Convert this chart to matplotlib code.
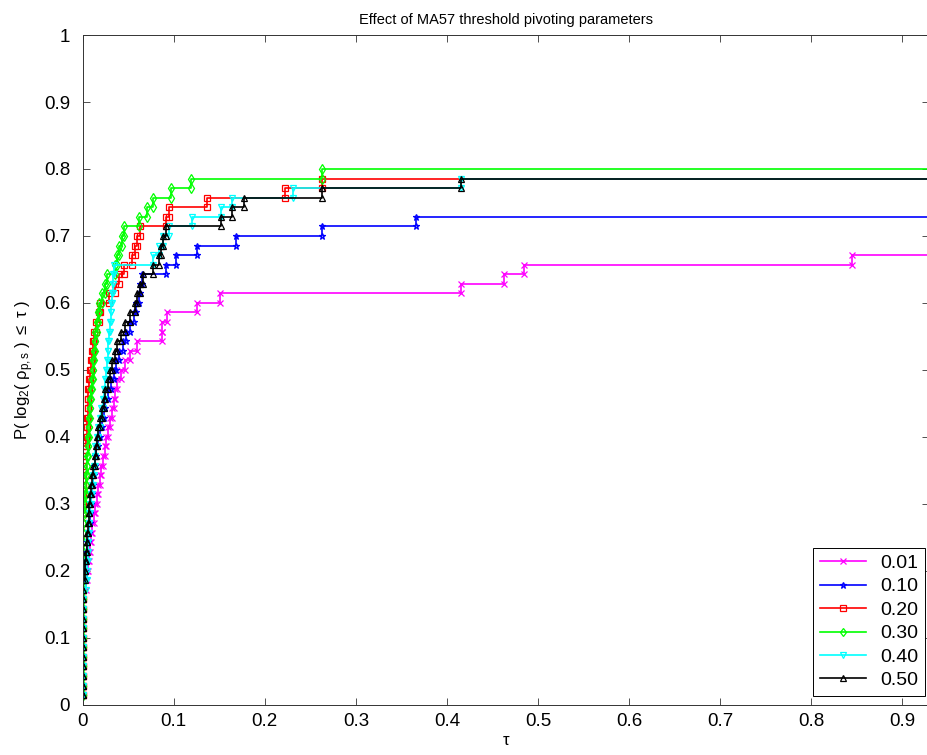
import matplotlib
matplotlib.use("Agg")
import matplotlib.pyplot as plt
import numpy as np

plt.rcParams['font.family'] = ['Liberation Sans', 'DejaVu Sans']
plt.rcParams['mathtext.fontset'] = 'custom'
plt.rcParams['mathtext.rm'] = 'Liberation Sans'
plt.rcParams['mathtext.it'] = 'Liberation Sans'

# ---------------- data (log2 performance ratios, sorted, finite only) ----------
n_problems = 70
labels = ['0.01', '0.10', '0.20', '0.30', '0.40', '0.50']

tau_001 = [0, 0, 0, 0, 0, 0, 0, 0, 0, 0, 0, 0,
           0.004, 0.005, 0.006, 0.007, 0.008, 0.009, 0.010, 0.012, 0.014, 0.016, 0.017, 0.019,
           0.020, 0.022, 0.024, 0.026, 0.028, 0.030, 0.032, 0.034, 0.036, 0.038, 0.042, 0.046,
           0.052, 0.0597, 0.0872, 0.0872, 0.0927, 0.1257, 0.151, 0.415, 0.4628, 0.4848, 0.845]

tau_010 = [0, 0, 0, 0, 0, 0, 0, 0, 0, 0, 0, 0, 0, 0,
           0.003, 0.004, 0.005, 0.006, 0.007, 0.0075, 0.008, 0.009, 0.010, 0.011, 0.012, 0.0135,
           0.015, 0.017, 0.019, 0.021, 0.023, 0.025, 0.028, 0.031, 0.034, 0.037, 0.040, 0.044,
           0.048, 0.052, 0.056, 0.059,
           0.0615, 0.063, 0.065, 0.091, 0.102, 0.1257, 0.168, 0.263, 0.366]

tau_020 = [0, 0, 0, 0, 0, 0, 0, 0, 0, 0, 0, 0, 0, 0, 0, 0, 0, 0, 0, 0, 0, 0, 0, 0, 0, 0, 0,
           0.004, 0.0045, 0.005, 0.0055, 0.006, 0.0062, 0.0065,
           0.008, 0.009, 0.010, 0.011, 0.012, 0.015, 0.0174, 0.0193, 0.0284, 0.036, 0.040, 0.045,
           0.054, 0.0578, 0.0597, 0.063, 0.092, 0.0945, 0.136, 0.2227, 0.263]

tau_030 = [0, 0, 0, 0, 0, 0, 0, 0, 0, 0, 0, 0, 0, 0, 0, 0, 0, 0, 0, 0,
           0.002, 0.003, 0.0035, 0.004, 0.0045, 0.005, 0.0055, 0.006, 0.0065, 0.007, 0.0075,
           0.008, 0.009, 0.010, 0.011, 0.0115, 0.0125,
           0.013, 0.0138, 0.0155, 0.017, 0.018, 0.021, 0.024, 0.0265, 0.035, 0.0376, 0.0404,
           0.0431, 0.0457, 0.0615, 0.0707, 0.0777, 0.097, 0.1195, 0.263]

tau_040 = [0, 0, 0, 0, 0, 0, 0, 0, 0, 0, 0, 0,
           0.004, 0.0045, 0.005, 0.0055, 0.006, 0.006, 0.0064, 0.007, 0.008, 0.009, 0.010, 0.011,
           0.012, 0.013, 0.014, 0.0156, 0.017, 0.019, 0.020, 0.022, 0.023, 0.025,
           0.026, 0.027, 0.0275, 0.028, 0.029, 0.030, 0.031, 0.0315, 0.032, 0.033, 0.0335,
           0.034, 0.077, 0.084, 0.088, 0.095, 0.12, 0.152, 0.164, 0.2315, 0.415]

tau_050 = [0, 0, 0, 0, 0, 0, 0, 0, 0, 0, 0, 0, 0,
           0.002, 0.003, 0.004, 0.0045, 0.005, 0.006, 0.0065, 0.007, 0.008, 0.009, 0.010, 0.0115,
           0.013, 0.0145, 0.0156, 0.017, 0.019, 0.021, 0.023, 0.025, 0.028, 0.030, 0.032, 0.035,
           0.0376, 0.042, 0.047, 0.052,
           0.058, 0.060, 0.063, 0.066, 0.077, 0.084, 0.086, 0.088, 0.0917, 0.152, 0.164, 0.177,
           0.263, 0.415]

series = [tau_001, tau_010, tau_020, tau_030, tau_040, tau_050]
colors = ['#ff00ff', '#0000ff', '#ff0000', '#00ff00', '#00ffff', '#000000']
markers = ['x', '*', 's', 'd', 'v', '^']

# ---------------- figure ----------------
fig = plt.figure(figsize=(9.28, 7.55), dpi=100)
ax = fig.add_axes([0.0891, 0.0666, 0.912, 0.887])

max_tau = max(max(s) for s in series)
fail_val = 2 * max_tau

for s, c, m, lab in zip(series, colors, markers, labels):
    r = np.array(list(s) + [fail_val] * (n_problems - len(s)))
    y = np.arange(1, n_problems + 1) / n_problems
    # stairs vertices (as MATLAB stairs)
    xs = np.empty(2 * len(r) - 1)
    ys = np.empty(2 * len(r) - 1)
    xs[0::2] = r
    ys[0::2] = y
    xs[1::2] = r[1:]
    ys[1::2] = y[:-1]
    ax.plot(xs, ys, '-', color=c, marker=m, markersize=5, lw=1.2,
            mfc='none', mew=0.9, label=lab, clip_on=True)

ax.set_xlim(0, 1.1 * max_tau)
ax.set_ylim(0, 1)
ax.set_xticks(np.arange(0, 0.95, 0.1))
ax.set_xticklabels(['0', '0.1', '0.2', '0.3', '0.4', '0.5', '0.6', '0.7', '0.8', '0.9'])
ax.set_yticks(np.arange(0, 1.05, 0.1))
ax.set_yticklabels(['0', '0.1', '0.2', '0.3', '0.4', '0.5', '0.6', '0.7', '0.8', '0.9', '1'])
ax.tick_params(direction='in', top=True, right=True, length=5, width=0.6,
               labelsize=13.5, color='#333333')
ax.tick_params(axis='y', pad=9)
ax.tick_params(axis='x', pad=6)
for sp in ax.spines.values():
    sp.set_linewidth(0.7)
    sp.set_color('#333333')

ax.set_title('Effect of MA57 threshold pivoting parameters', fontsize=10.5, pad=8)
ax.set_xlabel(r'$\tau$', fontsize=12, labelpad=2)
ax.set_ylabel(r'P( log$_2$( $\rho_{\rm p,s}$ ) $\leq$ $\tau$ )', fontsize=12, labelpad=6)

leg = ax.legend(loc='lower right', bbox_to_anchor=(925 / 928, 1 - 696 / 755),
                bbox_transform=fig.transFigure, fontsize=14, frameon=True,
                fancybox=False, edgecolor='black', borderaxespad=0,
                handlelength=2.4, handletextpad=0.7, labelspacing=0.3,
                borderpad=0.35, framealpha=1, markerscale=0.9)
leg.get_frame().set_linewidth(0.7)

fig.savefig('out.png', dpi=100)
